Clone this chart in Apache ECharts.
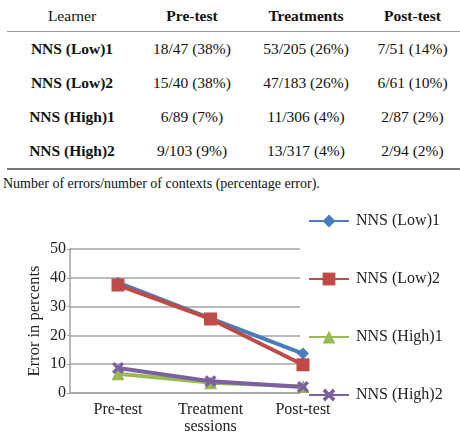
<!DOCTYPE html>
<html>
<head>
<meta charset="utf-8">
<script src="https://cdn.jsdelivr.net/npm/echarts@6/dist/echarts.min.js"></script>
<style>
  body { margin: 0; width: 460px; height: 442px; background: #fff; font-family: 'Liberation Serif', 'Times New Roman', serif; color: #111; position: relative; overflow: hidden; }
  table { position: absolute; left: 7px; top: 0; width: 453px; border-collapse: collapse; font-size: 15.5px; }
  th, td { text-align: center; padding: 0; }
  thead th { height: 31px; border-bottom: 1.5px solid #9a9a9a; }
  tbody td { height: 34px; }
  tbody tr:last-child td { border-bottom: 2.5px solid #777; }
  .caption { position: absolute; left: 3px; top: 176px; font-size: 14px; }
  #chart { position: absolute; left: 0; top: 200px; width: 460px; height: 242px; }
</style>
</head>
<body>
<table>
  <thead><tr id="head"></tr></thead>
  <tbody id="rows"></tbody>
</table>
<div class="caption">Number of errors/number of contexts (percentage error).</div>
<div id="chart"></div>
<script>
// table data
const tableHeader = ['Learner', 'Pre-test', 'Treatments', 'Post-test'];
const learners = ['NNS (Low)1', 'NNS (Low)2', 'NNS (High)1', 'NNS (High)2'];
const preTest = ['18/47 (38%)', '15/40 (38%)', '6/89 (7%)', '9/103 (9%)'];
const treatments = ['53/205 (26%)', '47/183 (26%)', '11/306 (4%)', '13/317 (4%)'];
const postTest = ['7/51 (14%)', '6/61 (10%)', '2/87 (2%)', '2/94 (2%)'];

// chart data
const categories = ['Pre-test', 'Treatment\nsessions', 'Post-test'];
const low1 = [38.3, 25.9, 13.7];
const low2 = [37.5, 25.7, 9.8];
const high1 = [6.7, 3.6, 2.3];
const high2 = [8.7, 4.1, 2.1];

const colWidths = [130, 110, 118, 95];
document.getElementById('head').innerHTML = tableHeader.map((h, i) =>
    '<th style="width:' + colWidths[i] + 'px;font-weight:' + (i === 0 ? 'normal' : 'bold') + '">' + h + '</th>').join('');
document.getElementById('rows').innerHTML = learners.map((name, i) =>
    '<tr><td style="font-weight:bold">' + name + '</td><td>' + preTest[i] + '</td><td>' +
    treatments[i] + '</td><td>' + postTest[i] + '</td></tr>').join('');

const font = "'Liberation Serif', 'Times New Roman', serif";
const xSymbol = 'path://M0,2 L2,0 L5,3 L8,0 L10,2 L7,5 L10,8 L8,10 L5,7 L2,10 L0,8 L3,5 Z';
const gridColor = '#a3a3a3';

const myChart = echarts.init(document.getElementById('chart'));

function lineSeries(name, data, color, symbol, size) {
    return {
        name: name,
        type: 'line',
        xAxisIndex: 1,
        yAxisIndex: 1,
        data: data,
        symbol: symbol,
        symbolSize: size,
        showAllSymbol: true,
        lineStyle: { color: color, width: 4 },
        itemStyle: { color: color },
        emphasis: { disabled: true },
        z: 3
    };
}

const option = {
    animation: false,
    textStyle: { fontFamily: font },
    legend: {
        orient: 'vertical',
        left: 308,
        top: 13,
        padding: 0,
        itemWidth: 40,
        itemHeight: 16,
        itemGap: 42,
        textStyle: { fontFamily: font, fontSize: 16, color: '#222', padding: [0, 0, 0, 2] },
        data: learners
    },
    grid: [
        { left: 70, top: 49, width: 230, height: 144 },
        { left: 118, top: 49, width: 185, height: 144 }
    ],
    xAxis: [
        {
            gridIndex: 0,
            type: 'category',
            data: categories,
            axisLine: { show: true, lineStyle: { color: gridColor, width: 1.5 } },
            axisTick: { show: false },
            axisLabel: { show: false }
        },
        {
            gridIndex: 1,
            type: 'category',
            boundaryGap: false,
            data: categories,
            axisLine: { show: false },
            axisTick: { show: false },
            axisLabel: { color: '#222', fontFamily: font, fontSize: 16, margin: 8, lineHeight: 17 }
        }
    ],
    yAxis: [
        {
            gridIndex: 0,
            type: 'value',
            min: 0,
            max: 50,
            interval: 10,
            name: 'Error in percents',
            nameLocation: 'middle',
            nameGap: 27,
            nameTextStyle: { color: '#222', fontFamily: font, fontSize: 16.5 },
            axisLine: { show: true, lineStyle: { color: gridColor, width: 1.5 } },
            axisTick: { show: true, length: 3, lineStyle: { color: gridColor } },
            axisLabel: { color: '#222', fontFamily: font, fontSize: 16, margin: 4 },
            splitLine: { lineStyle: { color: gridColor, width: 1.5 } }
        },
        {
            gridIndex: 1,
            type: 'value',
            min: 0,
            max: 50,
            interval: 10,
            show: false,
            splitLine: { show: false }
        }
    ],
    series: [
        lineSeries(learners[0], low1, '#4a7ebb', 'diamond', 12),
        lineSeries(learners[1], low2, '#be4b48', 'rect', 13),
        lineSeries(learners[2], high1, '#98b954', 'triangle', 13),
        lineSeries(learners[3], high2, '#7d60a0', xSymbol, 12)
    ]
};

myChart.setOption(option);
</script>
</body>
</html>
